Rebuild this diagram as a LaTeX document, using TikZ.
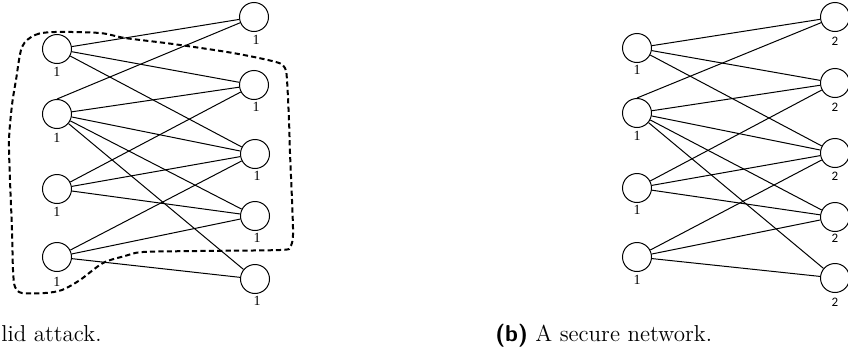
\documentclass[tikz,border=0pt]{standalone}
\usepackage{fontspec}
\newfontfamily\labfont{Liberation Serif}
\newfontfamily\labsans{Carlito}
\begin{document}
\begin{tikzpicture}[x=0.5pt,y=-0.5pt,
  vtx/.style={circle,draw,line width=0.5pt,minimum size=14.5pt,inner sep=0pt},
  edge/.style={line width=0.5pt},
  lab/.style={font=\labfont\fontsize{7}{8}\selectfont,inner sep=0pt},
  labb/.style={font=\labsans\fontsize{6.5}{8}\selectfont,inner sep=0pt},
  captxt/.style={anchor=base west,inner sep=0pt,font=\fontsize{11.5}{14}\selectfont},
  region/.style={dash pattern=on 2.6pt off 1.6pt,line width=1pt}]
\useasboundingbox (0,0) rectangle (848,354);
\clip (0,0) rectangle (848,354);
% ---------- left picture (a)
\node[vtx] (a1) at (57,49) {};
\node[vtx] (a2) at (57,114) {};
\node[vtx] (a3) at (57,189) {};
\node[vtx] (a4) at (57,257) {};
\node[vtx] (b1) at (254,17) {};
\node[vtx] (b2) at (254,85) {};
\node[vtx] (b3) at (255,154) {};
\node[vtx] (b4) at (255,216) {};
\node[vtx] (b5) at (255,279) {};
\node[lab] (la1) at (57,72) {1};
\node[lab] (la2) at (57,138) {1};
\node[lab] (la3) at (57,212) {1};
\node[lab] (la4) at (57,282) {1};
\node[lab] (lb1) at (256,40) {1};
\node[lab] (lb2) at (256,107) {1};
\node[lab] (lb3) at (257,176) {1};
\node[lab] (lb4) at (257,238) {1};
\node[lab] (lb5) at (257,301) {1};
\draw[edge] (a2.north) -- (b1);
\foreach \u/\v in {a1/b1,a1/b2,a1/b3,a2/b2,a2/b3,a2/b4,a2/b5,a3/b2,a3/b3,a3/b4,a4/b3,a4/b4,a4/b5}
  \draw[edge] (\u) -- (\v);
\draw[region] plot[smooth cycle,tension=0.5] coordinates {
 (22,47) (35,35) (55,32) (100,33) (125,38) (173,44) (233,53) (276,62) (285,68)
 (287,80) (289,120) (290,153) (292,200) (293,235) (290,247) (280,250) (200,251)
 (143,252) (125,256) (103,263) (80,280) (62,290) (45,293) (22,293) (15,287)
 (13,270) (12,230) (10,180) (9,140) (12,105) (16,80)};
% ---------- right picture (b)
\node[vtx] (c1) at (637,48) {};
\node[vtx] (c2) at (637,113) {};
\node[vtx] (c3) at (637,188) {};
\node[vtx] (c4) at (637,257) {};
\node[vtx] (d1) at (835,17) {};
\node[vtx] (d2) at (835,83) {};
\node[vtx] (d3) at (835,153) {};
\node[vtx] (d4) at (835,217) {};
\node[vtx] (d5) at (835,278) {};
\node[lab] (lc1) at (637,70) {1};
\node[lab] (lc2) at (637,136) {1};
\node[lab] (lc3) at (637,210) {1};
\node[lab] (lc4) at (637,280) {1};
\node[labb] (ld1) at (835,41) {2};
\node[labb] (ld2) at (835,107) {2};
\node[labb] (ld3) at (835,176) {2};
\node[labb] (ld4) at (835,238) {2};
\node[labb] (ld5) at (835,302) {2};
\draw[edge] (c2.north) -- (d1);
\foreach \u/\v in {c1/d1,c1/d2,c1/d3,c2/d2,c2/d3,c2/d4,c2/d5,c3/d2,c3/d3,c3/d4,c4/d3,c4/d4,c4/d5}
  \draw[edge] (\u) -- (\v);
% ---------- captions
\node[captxt] (capa) at (1,341) {lid attack.};
\node[captxt] (capb) at (495,341) {{\sffamily\bfseries (b)} A secure network.};
\end{tikzpicture}
\end{document}
